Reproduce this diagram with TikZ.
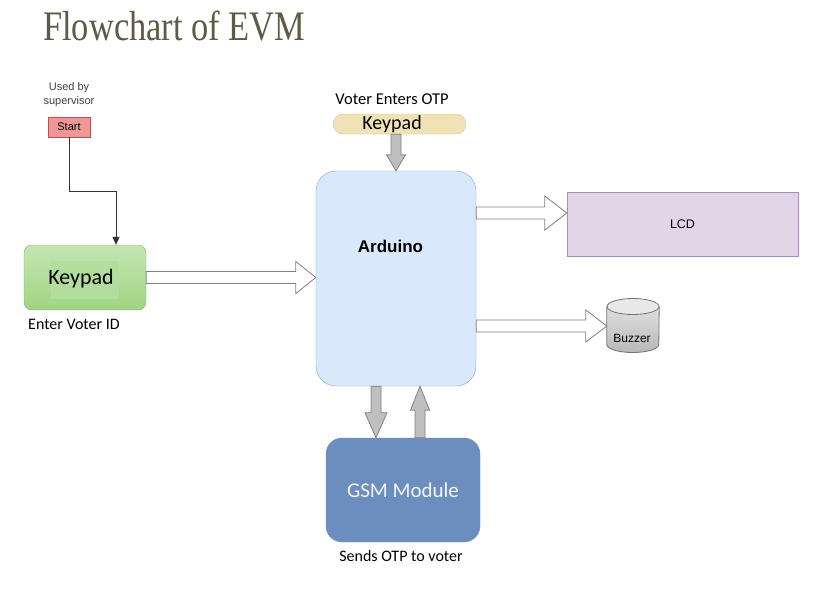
\documentclass[tikz,border=0pt]{standalone}
\usepackage{fontspec}
\setmainfont{Carlito}
\newfontfamily\arialfont{Liberation Sans}
\newfontfamily\titlefont{Liberation Serif}
\usetikzlibrary{calc,arrows.meta}

\definecolor{titlegray}{RGB}{95,90,70}
\definecolor{padgreen}{RGB}{160,212,132}
\definecolor{padgreentop}{RGB}{196,230,178}
\definecolor{padgreenline}{RGB}{130,179,102}
\definecolor{padtan}{RGB}{240,226,180}
\definecolor{padtanline}{RGB}{215,200,150}
\definecolor{ardblue}{RGB}{218,232,252}
\definecolor{ardline}{RGB}{126,166,224}
\definecolor{lcdpurple}{RGB}{225,213,231}
\definecolor{lcdline}{RGB}{170,140,185}
\definecolor{gsmblue}{RGB}{108,142,191}
\definecolor{startred}{RGB}{240,150,150}
\definecolor{startline}{RGB}{184,84,80}

\tikzset{
  fatline/.style={draw=gray, line width=0.8pt, line join=miter},
  smalltxt/.style={font=\arialfont\fontsize{11}{14}\selectfont, text=black!75},
  calibri/.style={font=\fontsize{16}{18}\selectfont},
}

% block arrow from #2 to #3: shaft half width #4, head half width #5, head length #6
\newcommand{\fatarrow}[6][white]{%
  \draw[fatline, fill=#1] let \p1=(#2), \p2=(#3),
    \n1={atan2(\y2-\y1,\x2-\x1)}, \n2={veclen(\x2-\x1,\y2-\y1)} in
    {[shift={(\p1)}, rotate=\n1, x=1pt, y=1pt]
    (0,#4) -- ({\n2-#6},#4) -- ({\n2-#6},#5) -- (\n2,0)
    -- ({\n2-#6},-#5) -- ({\n2-#6},-#4) -- (0,-#4) -- cycle};}

\begin{document}
\begin{tikzpicture}[x=1pt, y=-1pt]
  \useasboundingbox (0,0) rectangle (822,595);
  \fill[white] (0,0) rectangle (822,595);

  \node[anchor=base west, inner sep=0, text=titlegray,
    font=\titlefont\fontsize{42}{42}\selectfont] (title) at (43,40)
    {\scalebox{0.82}[1]{Flowchart of EVM}};

  % left: supervisor keypad
  \node[smalltxt, align=center] (sup) at (69,95) {Used by\\supervisor};
  \node[draw=startline, fill=startred, minimum width=42, minimum height=20,
    inner sep=0, font=\arialfont\fontsize{11}{12}\selectfont] (start) at (69,127) {Start};
  \node[draw=padgreenline, top color=padgreentop, bottom color=padgreen,
    rounded corners=8, minimum width=122, minimum height=65] (idpad) at (85,277.5) {};
  \node[fill=padgreen!80!white, minimum width=68, minimum height=38, inner sep=0] (idpadhl) at (85,280) {};
  \node[font=\fontsize{22}{24}\selectfont] (idpadtxt) at (81,279) {Keypad};
  \node[calibri, anchor=west, inner sep=0] (idlbl) at (28,324) {Enter Voter ID};
  \draw[line width=0.8pt, black!80, -{Triangle[length=8pt, width=7pt]}]
    (start.south) -- ++(0,54) -| ([xshift=31]idpad.north);

  % centre
  \node[calibri, font=\fontsize{16.5}{18}\selectfont] (otplbl) at (392,99) {Voter Enters OTP};
  \node[draw=padtanline, fill=padtan, rounded corners=10, minimum width=133,
    minimum height=20] (otppad) at (399.5,124) {};
  \node[font=\fontsize{20}{20}\selectfont] (otppadtxt) at (392,124) {Keypad};
  \node[draw=ardline, fill=ardblue, rounded corners=20, minimum width=160,
    minimum height=215] (ard) at (396,278.5) {};
  \node[font=\arialfont\bfseries\fontsize{17}{18}\selectfont] (ardtxt) at (390.5,246) {Arduino};
  \node[draw=gsmblue, fill=gsmblue, rounded corners=16, minimum width=154,
    minimum height=104, text=white!92!gsmblue,
    font=\fontsize{21}{22}\selectfont] (gsm) at (403,490) {GSM Module};
  \node[calibri] (gsmlbl) at (401,556) {Sends OTP to voter};

  % right
  \node[draw=lcdline, fill=lcdpurple, minimum width=231, minimum height=64,
    font=\arialfont\fontsize{12.5}{12}\selectfont] (lcd) at (682.5,224) {LCD};
  \node[minimum width=52, minimum height=55, inner sep=0] (buz) at (633,326) {};
  \shade[top color=gray!25, bottom color=gray!55]
    (buz.west |- 0,306.5) -- (buz.west |- 0,344.5)
    arc[start angle=180, end angle=0, x radius=26, y radius=8]
    -- (buz.east |- 0,306.5) -- cycle;
  \draw[gray!90!black, line width=0.8pt]
    (buz.west |- 0,306.5) -- (buz.west |- 0,344.5)
    arc[start angle=180, end angle=0, x radius=26, y radius=8]
    -- (buz.east |- 0,306.5);
  \filldraw[fill=gray!18, draw=gray!90!black, line width=0.8pt]
    (buz.center |- 0,306.5) ellipse[x radius=26, y radius=8];
  \node[font=\arialfont\fontsize{12}{12}\selectfont] (buztxt) at (632,338) {Buzzer};

  \coordinate (lcdin) at ([yshift=11]lcd.west);

  % arrows
  \fatarrow{idpad.east}{ard.west |- idpad}{6}{16}{20}
  \fatarrow[gray!50]{otppad.south -| ard.north}{ard.north}{5}{9.5}{16}
  \fatarrow{ard.east |- lcdin}{lcdin}{6}{17}{22}
  \fatarrow{ard.east |- buz}{buz.west}{6}{16}{21}
  \fatarrow[gray!50]{[xshift=-20]ard.south}{[xshift=-20]ard.south |- gsm.north}{5}{11}{25}
  \fatarrow[gray!50]{[xshift=24]ard.south |- gsm.north}{[xshift=24]ard.south}{5}{9.5}{24}
\end{tikzpicture}
\end{document}
